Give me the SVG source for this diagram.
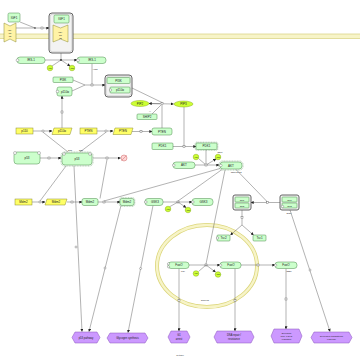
<svg xmlns="http://www.w3.org/2000/svg" width="360" height="360" viewBox="0 0 360 360">
<style>
.prot{fill:#ccffcc;stroke:#4a8a4a;stroke-width:0.5}
.act{fill:none;stroke:#4a8a4a;stroke-width:0.4;stroke-dasharray:1 0.6}
.gene{fill:#ffff66;stroke:#8a8a30;stroke-width:0.5}
.rec{fill:#fff3a6;stroke:#8a8a30;stroke-width:0.5}
.cplx{fill:#f3f3f3;stroke:#555;stroke-width:0.9}
.cin{fill:none;stroke:#999;stroke-width:0.3}
.sm{fill:#ccff33;stroke:#779900;stroke-width:0.4}
.pheno{fill:#cc99ff;stroke:#8855bb;stroke-width:0.5}
.site{fill:#fff;stroke:#555;stroke-width:0.35}
.e{stroke:#555;stroke-width:0.45;fill:none}
.pr{fill:#fff;stroke:#555;stroke-width:0.4}
text{font-family:"Liberation Sans",Arial,sans-serif;font-size:3px;fill:#222;text-anchor:middle}
.tiny{font-size:2.2px}
.ph{font-size:2.6px}
</style>
<defs>
<marker id="arr" viewBox="0 0 10 10" refX="9" refY="5" markerWidth="3" markerHeight="3" markerUnits="userSpaceOnUse" orient="auto"><path d="M0,0 L10,5 L0,10 z" fill="#222"/></marker>
</defs>
<rect width="360" height="360" fill="#fff"/>
<g id="membrane">
<rect x="0" y="34" width="360" height="4.5" fill="#f7f4c8"/>
<line x1="0" y1="34" x2="360" y2="34" stroke="#dcd68a" stroke-width="0.8"/>
<line x1="0" y1="38.5" x2="360" y2="38.5" stroke="#dcd68a" stroke-width="0.8"/>
</g>
<g id="nucleus">
<ellipse cx="207" cy="266" rx="50" ry="41" fill="none" stroke="#dcd67a" stroke-width="4"/>
<ellipse cx="207" cy="266" rx="50" ry="41" fill="none" stroke="#f7f4c8" stroke-width="2.4"/>
<text x="205" y="301" class="tiny">Nucleus</text>
</g>
<text x="180" y="356" class="tiny">Cytosol</text>

<g id="connectors">
<line class="e" x1="20" y1="22" x2="35" y2="28"/>
<line class="e" x1="16" y1="28" x2="41" y2="28"/>
<circle cx="35" cy="28" r="0.8" fill="#333"/>
<line class="e" x1="43" y1="28" x2="49" y2="28" marker-end="url(#arr)"/>
<rect class="pr" x="41" y="27" width="2" height="2"/>
<line class="e" x1="45" y1="60" x2="77" y2="60" marker-end="url(#arr)"/>
<line class="e" x1="61" y1="53" x2="61" y2="60"/>
<line class="e" x1="52" y1="66" x2="61" y2="60"/>
<line class="e" x1="61" y1="60" x2="70" y2="66" marker-end="url(#arr)"/>
<circle cx="61" cy="60" r="0.9" fill="#333"/>
<line class="e" x1="73" y1="80" x2="85" y2="85"/>
<line class="e" x1="72" y1="91" x2="85" y2="85"/>
<line class="e" x1="85" y1="85" x2="105" y2="85" marker-end="url(#arr)"/>
<line class="e" x1="92" y1="63.5" x2="92" y2="84"/>
<rect class="pr" x="91" y="84" width="2" height="2"/>
<text x="95" y="70" class="tiny">Y612</text>
<line class="e" x1="33" y1="131" x2="52" y2="131" marker-end="url(#arr)"/>
<circle class="pr" cx="43" cy="131" r="1.1"/>
<line class="e" x1="62" y1="128" x2="62" y2="96" marker-end="url(#arr)"/>
<rect class="pr" x="61" y="111" width="2" height="2"/>
<line class="e" x1="97" y1="131" x2="113" y2="131" marker-end="url(#arr)"/>
<circle class="pr" cx="106" cy="131" r="1.1"/>
<line class="e" x1="132" y1="131.5" x2="152" y2="131.5" marker-end="url(#arr)"/>
<rect class="pr" x="140" y="130.5" width="2" height="2"/>
<line class="e" x1="149" y1="103.5" x2="173.5" y2="104" marker-end="url(#arr)"/>
<line class="e" x1="160" y1="103.7" x2="149" y2="103.5" marker-end="url(#arr)"/>
<line class="e" x1="132" y1="88" x2="162" y2="102.5"/>
<line class="e" x1="152" y1="114" x2="161.5" y2="104.5"/>
<line class="e" x1="162" y1="128" x2="162" y2="105"/>
<rect class="pr" x="161" y="102.7" width="2" height="2"/>
<text x="150" y="111.5" class="tiny">+/-</text>
<line class="e" x1="184" y1="107" x2="184" y2="145.5"/>
<line class="e" x1="173" y1="146.5" x2="196" y2="146.5" marker-end="url(#arr)"/>
<rect class="pr" x="183" y="145.5" width="2" height="2"/>
<line class="e" x1="195" y1="165" x2="219" y2="165" marker-end="url(#arr)"/>
<line class="e" x1="206" y1="149.5" x2="206" y2="164"/>
<line class="e" x1="198.5" y1="158.5" x2="206" y2="165"/>
<line class="e" x1="206" y1="165" x2="216" y2="159" marker-end="url(#arr)"/>
<rect class="pr" x="205" y="164" width="2" height="2"/>
<line class="e" x1="40" y1="158" x2="61" y2="158" marker-end="url(#arr)"/>
<rect class="pr" x="48" y="157" width="2" height="2"/>
<line class="e" x1="93" y1="158" x2="120.5" y2="158" marker-end="url(#arr)"/>
<rect class="pr" x="106" y="157" width="2" height="2"/>
<line class="e" x1="100" y1="198.5" x2="107" y2="159.5"/>
<line class="e" x1="68" y1="152" x2="43" y2="132.2"/>
<line class="e" x1="80" y1="152" x2="106" y2="132.2"/>
<line class="e" x1="66" y1="166" x2="40" y2="201"/>
<text x="70" y="150.5" class="tiny">S15</text>
<text x="81" y="150.5" class="tiny">S20</text>
<line class="e" x1="32" y1="202" x2="45" y2="202" marker-end="url(#arr)"/>
<circle class="pr" cx="40" cy="202" r="1.1"/>
<line class="e" x1="67" y1="202" x2="82" y2="202" marker-end="url(#arr)"/>
<rect class="pr" x="71" y="201" width="2" height="2"/>
<line class="e" x1="98" y1="202" x2="120" y2="202" marker-end="url(#arr)"/>
<rect class="pr" x="103" y="201" width="2" height="2"/>
<line class="e" x1="220" y1="168.5" x2="104" y2="201"/>
<line class="e" x1="163" y1="202" x2="192" y2="202" marker-end="url(#arr)"/>
<rect class="pr" x="177" y="201" width="2" height="2"/>
<line class="e" x1="222" y1="169.5" x2="178" y2="201"/>
<line class="e" x1="169.5" y1="206.8" x2="178" y2="202"/>
<line class="e" x1="178" y1="202" x2="186" y2="207.5" marker-end="url(#arr)"/>
<line class="e" x1="280" y1="202.5" x2="251" y2="202.5" marker-end="url(#arr)"/>
<rect class="pr" x="266.5" y="201.5" width="2" height="2"/>
<line class="e" x1="236" y1="169.5" x2="267" y2="201.5"/>
<line class="e" x1="242" y1="210" x2="242" y2="225"/>
<rect class="pr" x="241" y="216.5" width="2" height="2"/>
<line class="e" x1="242" y1="225" x2="230.5" y2="235" marker-end="url(#arr)"/>
<line class="e" x1="242" y1="225" x2="253.5" y2="235" marker-end="url(#arr)"/>
<text x="289" y="213.5" class="tiny">S939</text>
<line class="e" x1="189" y1="265" x2="220" y2="265" marker-end="url(#arr)"/>
<rect class="pr" x="205" y="264" width="2" height="2"/>
<line class="e" x1="225" y1="170" x2="206" y2="264"/>
<line class="e" x1="198.5" y1="271.5" x2="206" y2="265"/>
<line class="e" x1="206" y1="265" x2="215.5" y2="272" marker-end="url(#arr)"/>
<line class="e" x1="241" y1="265" x2="275" y2="265" marker-end="url(#arr)"/>
<rect class="pr" x="257" y="264" width="2" height="2"/>
<text x="183" y="271.5" class="tiny">T24</text>
<text x="289" y="271.5" class="tiny">S256</text>
<line class="e" x1="74" y1="166" x2="82" y2="331.5" marker-end="url(#arr)"/>
<circle class="pr" cx="76" cy="247" r="1"/>
<line class="e" x1="121" y1="205.5" x2="89" y2="331.5" marker-end="url(#arr)"/>
<circle class="pr" cx="105" cy="268" r="1"/>
<line class="e" x1="153" y1="205.5" x2="128" y2="332.5" marker-end="url(#arr)"/>
<circle class="pr" cx="140.6" cy="268.5" r="1"/>
<line class="e" x1="179" y1="268.5" x2="179" y2="331" marker-end="url(#arr)"/>
<rect class="pr" x="178" y="299.5" width="2" height="2"/>
<line class="e" x1="235" y1="268.5" x2="235" y2="331" marker-end="url(#arr)"/>
<rect class="pr" x="234" y="299.5" width="2" height="2"/>
<line class="e" x1="286" y1="268.5" x2="286" y2="329" marker-end="url(#arr)"/>
<rect class="pr" x="285" y="298" width="2" height="2"/>
<line class="e" x1="290" y1="210" x2="330" y2="331.5" marker-end="url(#arr)"/>
<circle class="pr" cx="310" cy="270" r="1"/>
</g>

<g id="n_igf1"><rect class="prot" x="8" y="13" width="12" height="9" rx="1.5"/><text x="14" y="18.6">IGF1</text></g>
<g id="n_igf1r"><polygon class="rec" points="4,23 10,26 16,23 16,42 10,39 4,42"/><text x="10" y="30.5" class="tiny">IGF-</text><text x="10" y="33.5" class="tiny">1R</text><text x="10" y="36.5" class="tiny">αβ</text></g>
<g id="n_igf_complex">
<rect class="cplx" x="49" y="13" width="24" height="40" rx="3"/><rect class="cin" x="50.2" y="14.2" width="21.6" height="37.6" rx="2.4"/>
<rect class="prot" x="54" y="15" width="15" height="8" rx="1.2"/><text x="61.5" y="20">IGF1</text>
<polygon class="rec" points="53,25 60.5,28 68,25 68,42 60.5,39 53,42"/><text x="60.5" y="32.5" class="tiny">IGF-</text><text x="60.5" y="35.5" class="tiny">1R</text><text x="60.5" y="38.5" class="tiny">αβ</text>
</g>
<g id="n_irs1"><rect class="prot" x="17" y="57" width="28" height="6.5" rx="3"/><circle class="site" cx="17.5" cy="60.2" r="1.4"/><text x="31" y="61.3">IRS-1</text></g>
<g id="n_irs1p"><rect class="prot" x="77" y="57" width="29" height="6.5" rx="3"/><circle class="site" cx="78" cy="60.2" r="1.4"/><text x="92" y="61.3">IRS-1</text></g>
<g id="n_atp1"><circle class="sm" cx="50" cy="68" r="2.8"/><text x="50" y="68.8" class="tiny">ATP</text></g>
<g id="n_adp1"><circle class="sm" cx="72" cy="68" r="2.8"/><text x="72" y="68.8" class="tiny">ADP</text></g>
<g id="n_pi3kreg"><rect class="prot" x="53" y="77" width="20" height="5.5" rx="1"/><text x="63" y="80.8">PI3K</text></g>
<g id="n_p110"><rect class="prot" x="57" y="87" width="15" height="9" rx="2"/><circle class="site" cx="57.5" cy="91.5" r="1.3"/><text x="65" y="92.6">p110α</text></g>
<g id="n_pi3k_complex">
<rect class="cplx" x="105" y="75" width="27" height="22" rx="3"/><rect class="cin" x="106.2" y="76.2" width="24.6" height="19.6" rx="2.4"/>
<rect class="prot" x="107" y="77.5" width="23" height="6" rx="1"/><text x="118.5" y="81.6">PI3K</text>
<rect class="prot" x="110" y="87" width="20" height="6" rx="1"/><circle class="site" cx="110.5" cy="90" r="1.2"/><text x="120" y="91.1">p110α</text>
</g>
<g id="n_pip2"><ellipse class="sm" cx="140" cy="103.5" rx="9" ry="3"/><text x="140" y="104.6">PIP2</text></g>
<g id="n_pip3"><ellipse class="sm" cx="183.5" cy="104" rx="9.5" ry="3"/><text x="183.5" y="105.1">PIP3</text></g>
<g id="n_ship2"><rect class="prot" x="137" y="114" width="20" height="5.5" rx="1"/><text x="147" y="117.8">SHIP2</text></g>
<g id="n_p110_gene"><rect class="gene" x="16" y="128" width="17" height="6"/><text x="24.5" y="132.1">p110</text></g>
<g id="n_p110_rna"><polygon class="gene" points="54,128 72,128 70,134.5 52,134.5"/><text x="62" y="132.3">p110α</text></g>
<g id="n_pten_gene"><rect class="gene" x="80" y="128" width="17" height="6"/><text x="88.5" y="132.1">PTEN</text></g>
<g id="n_pten_rna"><polygon class="gene" points="115,128 133,128 131,134.5 113,134.5"/><text x="123" y="132.3">PTEN</text></g>
<g id="n_pten"><rect class="prot" x="152" y="128" width="20" height="7" rx="2"/><text x="162" y="132.6">PTEN</text></g>
<g id="n_pdk1"><rect class="prot" x="152" y="143" width="21" height="6.5" rx="1"/><text x="162.5" y="147.3">PDK1</text></g>
<g id="n_pdk1a"><rect class="prot" x="196" y="143" width="21" height="6.5" rx="1"/><rect class="act" x="195.2" y="142.2" width="22.6" height="8.1" rx="1.4"/><text x="206.5" y="147.3">PDK1</text><text x="220" y="153" class="tiny">S241</text></g>
<g id="n_akt"><rect class="prot" x="173" y="162" width="22" height="6.5" rx="3"/><circle class="site" cx="173.8" cy="165.2" r="1.3"/><text x="184" y="166.3">AKT</text></g>
<g id="n_atp2"><circle class="sm" cx="196" cy="157" r="2.8"/><text x="196" y="157.8" class="tiny">ATP</text></g>
<g id="n_adp2"><circle class="sm" cx="218" cy="157" r="2.8"/><text x="218" y="157.8" class="tiny">ADP</text></g>
<g id="n_akta"><rect class="prot" x="220" y="162" width="22" height="7" rx="3"/><rect class="act" x="219" y="161" width="24" height="9" rx="3.5"/><circle class="site" cx="220.8" cy="165.5" r="1.3"/><text x="231" y="166.6">AKT</text><text x="236" y="172.5" class="tiny">T308 S473</text></g>
<g id="n_p53"><rect class="prot" x="14" y="152" width="26" height="12" rx="3"/><circle class="site" cx="15" cy="153" r="1.5"/><circle class="site" cx="39" cy="153" r="1.5"/><text x="27" y="159.1">p53</text></g>
<g id="n_p53a"><rect class="prot" x="62" y="153" width="30" height="12" rx="3"/><rect class="act" x="61" y="152" width="32" height="14" rx="3.5"/><circle class="site" cx="64" cy="154" r="1.4"/><circle class="site" cx="90" cy="154" r="1.4"/><text x="77" y="160.1">p53</text></g>
<g id="n_degrade"><circle cx="124" cy="158" r="3" fill="#ffd6d6" stroke="#cc6666" stroke-width="0.5"/><line x1="121.5" y1="160.5" x2="126.5" y2="155.5" stroke="#cc6666" stroke-width="0.5"/></g>
<g id="n_mdm2_gene"><rect class="gene" x="15" y="199" width="17" height="6"/><text x="23.5" y="203.1">Mdm2</text></g>
<g id="n_mdm2_rna"><polygon class="gene" points="47,199 67,199 65,205 45,205"/><text x="56" y="203.1">Mdm2</text></g>
<g id="n_mdm2"><rect class="prot" x="82" y="198.5" width="16" height="7" rx="2"/><text x="90" y="203.1">Mdm2</text></g>
<g id="n_mdm2p"><rect class="prot" x="120" y="198.5" width="14" height="7" rx="2"/><rect class="act" x="119.2" y="197.7" width="15.6" height="8.6" rx="2.4"/><text x="127" y="203.1">Mdm2</text></g>
<g id="n_gsk3"><rect class="prot" x="145" y="198.5" width="18" height="7" rx="3"/><circle class="site" cx="145.8" cy="202" r="1.3"/><text x="155" y="203.1">GSK3</text></g>
<g id="n_gsk3p"><rect class="prot" x="192" y="198.5" width="21" height="7" rx="3"/><circle class="site" cx="192.8" cy="202" r="1.3"/><text x="203.5" y="203.1">GSK3</text></g>
<g id="n_atp3"><circle class="sm" cx="168" cy="209" r="2.8"/><text x="168" y="209.8" class="tiny">ATP</text></g>
<g id="n_adp3"><circle class="sm" cx="188" cy="210" r="2.8"/><text x="188" y="210.8" class="tiny">ADP</text></g>
<g id="n_tsc"><rect class="cplx" x="233" y="195" width="18" height="15" rx="2"/><rect class="prot" x="235" y="197" width="14" height="5" rx="0.8"/><text x="242" y="200.5" class="tiny">Tsc1</text><rect class="prot" x="235" y="203" width="14" height="5" rx="0.8"/><text x="242" y="206.5" class="tiny">Tsc2</text></g>
<g id="n_tscp"><rect class="cplx" x="280" y="195" width="19" height="15" rx="2"/><rect class="prot" x="282" y="197" width="15" height="5" rx="0.8"/><text x="289.5" y="200.5" class="tiny">Tsc1</text><rect class="prot" x="282" y="203" width="15" height="5" rx="0.8"/><circle class="site" cx="282.5" cy="206.5" r="1.2"/><text x="289.5" y="206.5" class="tiny">Tsc2</text></g>
<g id="n_tsc2"><rect class="prot" x="217" y="235" width="13" height="6" rx="1"/><circle class="site" cx="217.5" cy="238" r="1.2"/><text x="223.5" y="239">Tsc2</text></g>
<g id="n_tsc1"><rect class="prot" x="253" y="235" width="13" height="6" rx="1"/><text x="259.5" y="239">Tsc1</text></g>
<g id="n_foxo_n"><rect class="prot" x="168" y="262" width="21" height="6.5" rx="3"/><circle class="site" cx="168.5" cy="263.8" r="1.1"/><circle class="site" cx="168.5" cy="266.8" r="1.1"/><text x="179" y="266.3">FoxO</text></g>
<g id="n_foxop_n"><rect class="prot" x="220" y="262" width="21" height="6.5" rx="3"/><circle class="site" cx="220.6" cy="265.2" r="1.2"/><text x="231" y="266.3">FoxO</text></g>
<g id="n_atp4"><circle class="sm" cx="196" cy="273.5" r="2.8"/><text x="196" y="274.3" class="tiny">ATP</text></g>
<g id="n_adp4"><circle class="sm" cx="218" cy="274.5" r="2.8"/><text x="218" y="275.3" class="tiny">ADP</text></g>
<g id="n_foxo_c"><rect class="prot" x="275" y="262" width="22" height="6.5" rx="3"/><circle class="site" cx="275.6" cy="265.2" r="1.2"/><text x="286" y="266.3">FoxO</text></g>
<g id="h1"><polygon class="pheno" points="75,332 97,332 100,337.5 97,343 75,343 72,337.5"/><text x="86" y="338.5" class="ph">p53 pathway</text></g>
<g id="h2"><polygon class="pheno" points="110,333 145,333 148,338 145,343 110,343 107,338"/><text x="127.5" y="339" class="ph">Glycogen synthesis</text></g>
<g id="h3"><polygon class="pheno" points="171,331 187,331 190,337 187,343 171,343 168,337"/><text x="179" y="336.2" class="ph">G1</text><text x="179" y="339.6" class="ph">arrest</text></g>
<g id="h4"><polygon class="pheno" points="217,331 251,331 254,337 251,343 217,343 214,337"/><text x="234" y="336.2" class="ph">DNA repair /</text><text x="234" y="339.6" class="ph">resistance</text></g>
<g id="h5"><polygon class="pheno" points="274,329 299,329 302,336 299,343 274,343 271,336"/><text x="286.5" y="333.6" class="tiny">Biological</text><text x="286.5" y="336.8" class="tiny">func. FOXO</text><text x="286.5" y="340" class="tiny">regulation</text></g>
<g id="h6"><polygon class="pheno" points="314,332 349,332 352,337.5 349,343 314,343 311,337.5"/><text x="331.5" y="336.8" class="tiny">Decreased translational</text><text x="331.5" y="339.8" class="tiny">response</text></g>
</svg>
